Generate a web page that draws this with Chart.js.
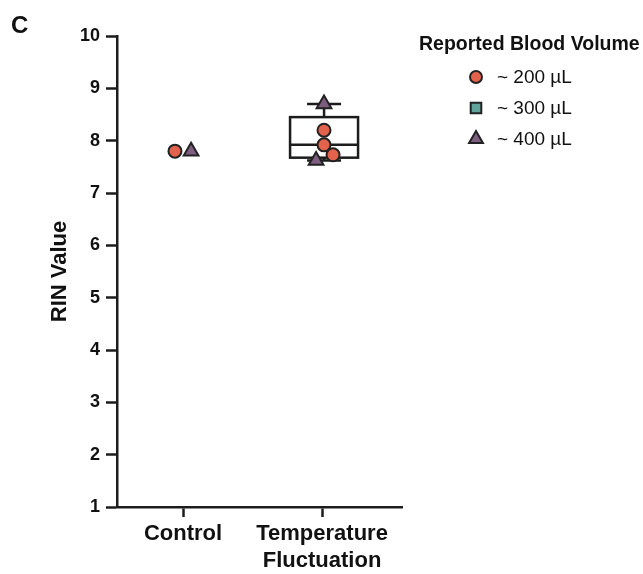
<!DOCTYPE html>
<html>
<head>
<meta charset="utf-8">
<script src="https://cdn.jsdelivr.net/npm/chart.js@4.4.0/dist/chart.umd.min.js"></script>
<style>
    html, body { margin: 0; padding: 0; background: #fff; }
    #wrap { width: 643px; height: 574px; position: relative; }
</style>
</head>
<body>
<div id="wrap"><canvas id="rinChart"></canvas></div>
<script>
// groups on the x axis (value 1 and 2 of the linear scale)
var groups = ['Control', ['Temperature', 'Fluctuation']];
var yTicks = [1, 2, 3, 4, 5, 6, 7, 8, 9, 10];
var volumeLabels = ['~ 200 µL', '~ 300 µL', '~ 400 µL'];

// RIN values per group and reported blood volume
var control200 = [7.8];
var control400 = [7.8];
var temp200 = [8.2, 7.92, 7.73];
var temp400 = [8.7, 7.62];

// horizontal spread of the dots around the group centre (x units)
var controlSpread200 = [-0.058];
var controlSpread400 = [0.058];
var tempSpread200 = [0.014, 0.014, 0.079];
var tempSpread400 = [0.014, -0.043];

var colors = {
    c200: '#e2624b',
    c300: '#5fa59c',
    c400: '#7e5e80',
    edge: '#222',
    axis: '#1c1c1c'
};

var FONT = "'Liberation Sans', Arial, sans-serif";

function toPoints(groupPos, values, spread) {
    return values.map(function (v, i) {
        return { x: groupPos + spread[i], y: v };
    });
}

function quartiles(vals) {
    var s = vals.slice().sort(function (a, b) { return a - b; });
    var n = s.length;
    function pct(p) {
        var pos = (n + 1) * p - 1;
        var lo = Math.floor(pos), hi = Math.ceil(pos);
        return s[lo] + (s[hi] - s[lo]) * (pos - lo);
    }
    return { min: s[0], q1: pct(0.25), med: pct(0.5), q3: pct(0.75), max: s[n - 1] };
}

// box and whiskers for the temperature group, drawn under the dots
var boxPlot = {
    id: 'boxPlot',
    beforeDatasetsDraw: function (chart) {
        var ctx = chart.ctx;
        var xs = chart.scales.x, ys = chart.scales.y;
        var q = quartiles(temp200.concat(temp400));
        var cx = xs.getPixelForValue(2) + 2;
        var half = 34, cap = 17;
        ctx.save();
        ctx.strokeStyle = colors.axis;
        ctx.lineWidth = 2.5;
        ctx.fillStyle = '#fff';
        var top = ys.getPixelForValue(q.q3), bot = ys.getPixelForValue(q.q1);
        ctx.fillRect(cx - half, top, half * 2, bot - top);
        ctx.strokeRect(cx - half, top, half * 2, bot - top);
        ctx.beginPath();
        var med = ys.getPixelForValue(q.med);
        ctx.moveTo(cx - half, med); ctx.lineTo(cx + half, med);
        var hi = ys.getPixelForValue(q.max), lo = ys.getPixelForValue(q.min);
        ctx.moveTo(cx, top); ctx.lineTo(cx, hi);
        ctx.moveTo(cx - cap, hi); ctx.lineTo(cx + cap, hi);
        ctx.moveTo(cx, bot); ctx.lineTo(cx, lo);
        ctx.moveTo(cx - cap, lo); ctx.lineTo(cx + cap, lo);
        ctx.stroke();
        ctx.restore();
    }
};

// panel letter and the volume legend on the right
var sideText = {
    id: 'sideText',
    afterDraw: function (chart) {
        var ctx = chart.ctx;
        ctx.save();
        ctx.fillStyle = '#111';
        ctx.textBaseline = 'middle';
        ctx.textAlign = 'left';
        ctx.font = 'bold 24px ' + FONT;
        ctx.fillText('C', 11, 26);

        ctx.font = 'bold 19.5px ' + FONT;
        ctx.fillText('Reported Blood Volume', 419, 45);

        var rows = [77, 108, 139];
        var styles = [
            { pointStyle: 'circle', radius: 6, fill: colors.c200 },
            { pointStyle: 'rect', radius: 7.5, fill: colors.c300 },
            { pointStyle: 'triangle', radius: 8, fill: colors.c400 }
        ];
        ctx.font = '19px ' + FONT;
        volumeLabels.forEach(function (lab, i) {
            var st = styles[i];
            ctx.fillStyle = st.fill;
            ctx.strokeStyle = colors.edge;
            ctx.lineWidth = 2;
            Chart.helpers.drawPoint(ctx, { pointStyle: st.pointStyle, radius: st.radius, borderWidth: 2, rotation: 0 }, 476, rows[i]);
            ctx.fillStyle = '#111';
            ctx.fillText(lab, 497, rows[i] + 1);
        });
        ctx.restore();
    }
};

var ctx = document.getElementById('rinChart').getContext('2d');
var rinChart = new Chart(ctx, {
    type: 'scatter',
    data: {
        datasets: [
            {
                label: volumeLabels[0],
                data: toPoints(1, control200, controlSpread200).concat(toPoints(2, temp200, tempSpread200)),
                pointStyle: 'circle',
                pointRadius: 6.5,
                backgroundColor: colors.c200,
                borderColor: colors.edge,
                pointBorderWidth: 2
            },
            {
                label: volumeLabels[2],
                data: toPoints(1, control400, controlSpread400).concat(toPoints(2, temp400, tempSpread400)),
                pointStyle: 'triangle',
                pointRadius: 8.5,
                backgroundColor: colors.c400,
                borderColor: colors.edge,
                pointBorderWidth: 2
            }
        ]
    },
    options: {
        responsive: true,
        maintainAspectRatio: false,
        animation: false,
        layout: { padding: { top: 36, right: 241, bottom: 0, left: 0 } },
        plugins: {
            legend: { display: false },
            tooltip: { enabled: false }
        },
        scales: {
            x: {
                type: 'linear',
                min: 0.525,
                max: 2.575,
                afterBuildTicks: function (scale) {
                    scale.ticks = [{ value: 1 }, { value: 2 }];
                },
                afterFit: function (scale) { scale.height = 67; },
                ticks: {
                    autoSkip: false,
                    maxRotation: 0,
                    padding: 4,
                    color: '#111',
                    font: { family: FONT, size: 22, weight: 'bold' },
                    callback: function (value, index) { return groups[index]; }
                },
                grid: {
                    display: true,
                    drawOnChartArea: false,
                    drawTicks: true,
                    tickLength: 10,
                    tickWidth: 2.5,
                    tickColor: colors.axis
                },
                border: { display: true, width: 2.5, color: colors.axis }
            },
            y: {
                min: 1,
                max: 10,
                afterBuildTicks: function (scale) {
                    scale.ticks = yTicks.map(function (v) { return { value: v }; });
                },
                afterFit: function (scale) { scale.width = 117; },
                ticks: {
                    padding: 6,
                    color: '#111',
                    font: { family: FONT, size: 18, weight: 'bold' }
                },
                title: {
                    display: true,
                    text: 'RIN Value',
                    color: '#111',
                    font: { family: FONT, size: 22, weight: 'bold' },
                    padding: { top: 47, bottom: 0 }
                },
                grid: {
                    display: true,
                    drawOnChartArea: false,
                    drawTicks: true,
                    tickLength: 11,
                    tickWidth: 2.5,
                    tickColor: colors.axis
                },
                border: { display: true, width: 2.5, color: colors.axis }
            }
        }
    },
    plugins: [boxPlot, sideText]
});
</script>
</body>
</html>
